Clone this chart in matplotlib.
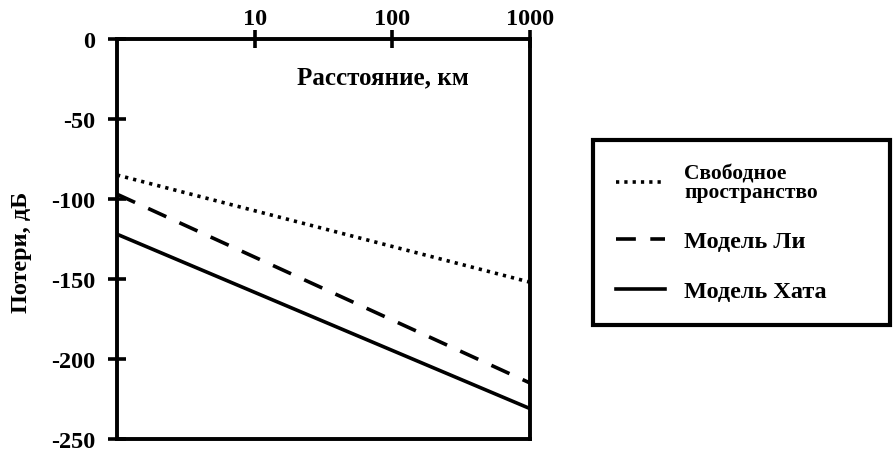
import matplotlib
matplotlib.use("Agg")
import matplotlib.pyplot as plt
from matplotlib.lines import Line2D

distance_km = [1, 1000]
free_space = [-85, -152]
li_model = [-97, -215]
hata_model = [-122, -231]

series_labels = ["Свободное\nпространство", "Модель Ли", "Модель Хата"]
x_ticks = [10, 100, 1000]
y_ticks = [0, -50, -100, -150, -200, -250]

plt.rcParams['font.family'] = ['Liberation Serif', 'DejaVu Serif']
plt.rcParams['font.weight'] = 'bold'

fig = plt.figure(figsize=(8.93, 4.56), dpi=100)
ax = fig.add_axes([117/893, 1-440/456, (530-117)/893, 400/456])

lw = 2.6
l1, = ax.plot(distance_km, free_space, color='black', lw=lw, linestyle=(0, (0.9, 1.4)))
l2, = ax.plot(distance_km, li_model, color='black', lw=lw, linestyle=(0, (5.5, 4)))
l3, = ax.plot(distance_km, hata_model, color='black', lw=lw, linestyle='-')

ax.set_xscale('log')
ax.set_xlim(1, 1000)
ax.set_ylim(-250, 0)
ax.xaxis.tick_top()
ax.set_xticks(x_ticks)
ax.set_xticklabels([str(t) for t in x_ticks])
ax.xaxis.set_minor_locator(matplotlib.ticker.NullLocator())
ax.set_yticks(y_ticks)
ax.set_yticklabels([str(t) for t in y_ticks])
ax.tick_params(axis='both', direction='inout', length=13, width=2.6, labelsize=17.5)
ax.tick_params(axis='x', pad=1)
ax.tick_params(axis='y', pad=9)
for s in ax.spines.values():
    s.set_linewidth(2.8)

ax.text((383-117)/413, 0.905, "Расстояние, км", transform=ax.transAxes, fontsize=18,
        fontweight='bold', ha='center', va='center')
fig.text(22/893, 1-252/456, "Потери, дБ", rotation=90, fontsize=17.5,
         fontweight='bold', ha='center', va='center')

handles = [Line2D([0], [0], color='black', lw=lw, linestyle=(0, (0.9, 1.4))),
           Line2D([0], [0], color='black', lw=lw, linestyle=(0, (5.5, 4))),
           Line2D([0], [0], color='black', lw=lw)]
leg = fig.legend(handles, series_labels,
                 bbox_to_anchor=(593/893, 1-323/456, (890-593)/893, (323-141)/456),
                 loc='upper left', mode='expand', frameon=True, fancybox=False,
                 framealpha=1, handlelength=2.0, handletextpad=0.8, labelspacing=1.15,
                 borderpad=0.95, fontsize=17.5, borderaxespad=0)
leg.get_frame().set_edgecolor('black')
leg.get_frame().set_linewidth(3)
leg.get_texts()[0].set_fontsize(15.5)
leg.get_texts()[0].set_linespacing(0.95)

fig.savefig("out.png", dpi=100)
